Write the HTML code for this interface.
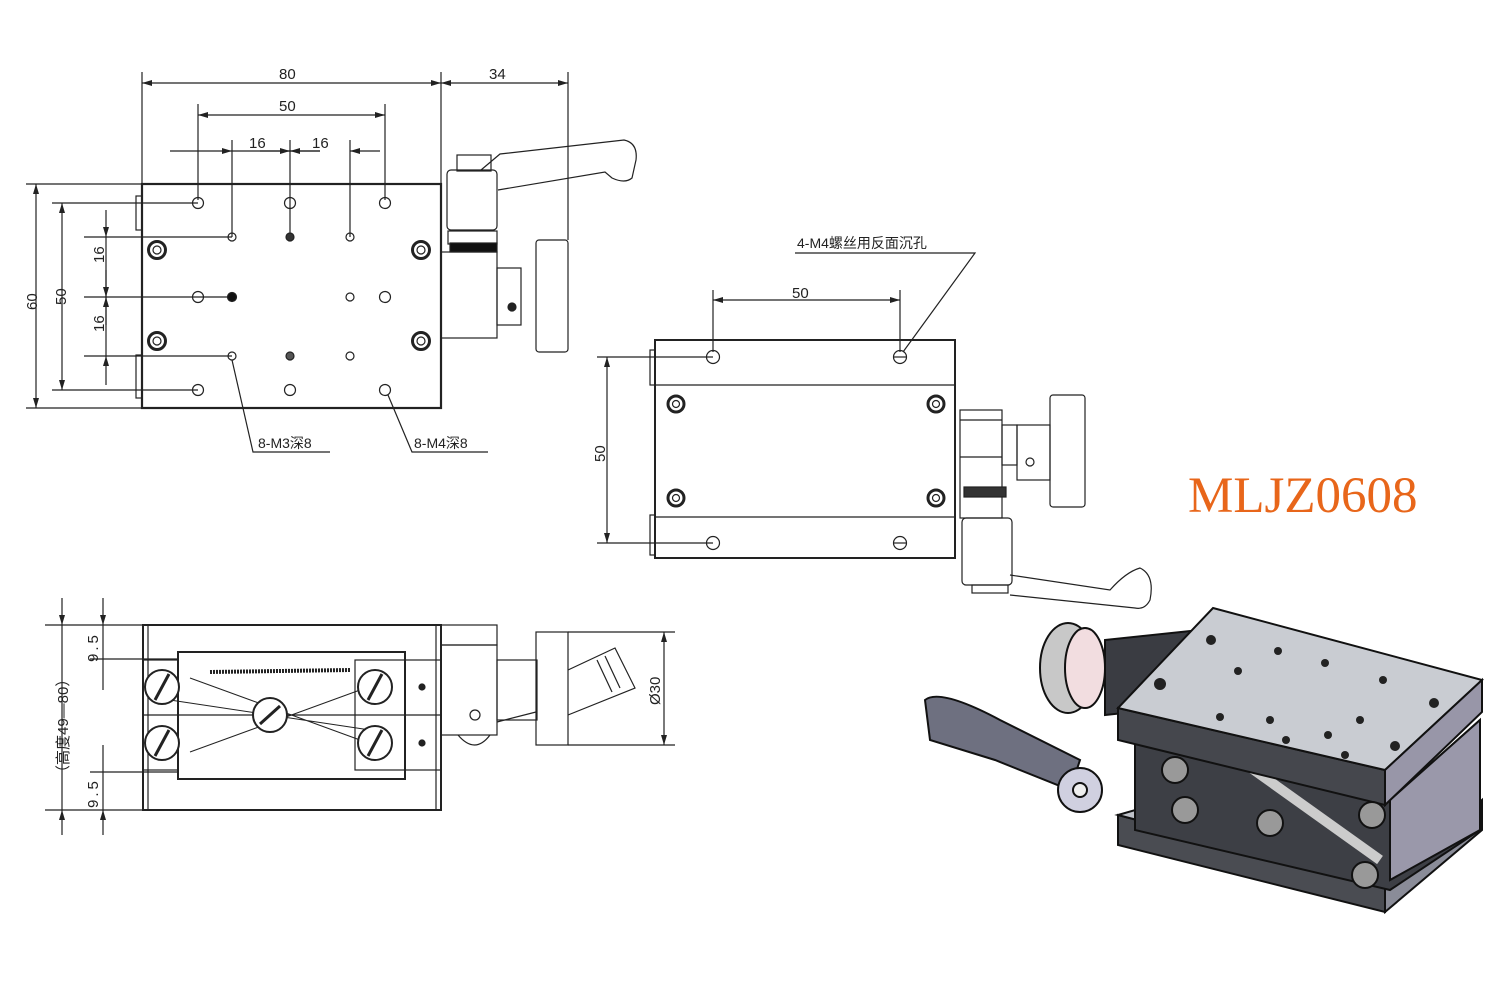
<!DOCTYPE html>
<html><head><meta charset="utf-8"><style>
html,body{margin:0;padding:0;background:#fff;}
svg{display:block;}
text{font-family:"Liberation Sans","Noto Sans CJK SC",sans-serif;fill:#222;}
text.big{font-family:"Liberation Serif",serif;fill:#e8661a;}
</style></head><body>
<svg width="1500" height="1000" viewBox="0 0 1500 1000" xmlns="http://www.w3.org/2000/svg">
<defs>
<marker id="a" viewBox="0 0 10 6" refX="10" refY="3" markerWidth="10" markerHeight="6" orient="auto-start-reverse" markerUnits="userSpaceOnUse"><path d="M0,0 L10,3 L0,6z" fill="#222"/></marker>
</defs>
<g stroke="#222" fill="none" stroke-width="1.2">
<line x1="142" y1="72" x2="142" y2="184"/><line x1="441" y1="72" x2="441" y2="230"/><line x1="568" y1="72" x2="568" y2="240"/>
<line x1="142" y1="83" x2="441" y2="83" marker-start="url(#a)" marker-end="url(#a)"/>
<line x1="441" y1="83" x2="568" y2="83" marker-start="url(#a)" marker-end="url(#a)"/>
<line x1="198" y1="104" x2="198" y2="200"/><line x1="385" y1="104" x2="385" y2="200"/>
<line x1="198" y1="115" x2="385" y2="115" marker-start="url(#a)" marker-end="url(#a)"/>
<line x1="232" y1="140" x2="232" y2="237"/><line x1="290" y1="140" x2="290" y2="237"/><line x1="350" y1="140" x2="350" y2="237"/>
<line x1="170" y1="151" x2="232" y2="151" marker-end="url(#a)"/><line x1="232" y1="151" x2="290" y2="151"/>
<line x1="260" y1="151" x2="290" y2="151" marker-end="url(#a)"/><line x1="290" y1="151" x2="320" y2="151"/>
<line x1="320" y1="151" x2="290" y2="151" marker-end="url(#a)"/><line x1="380" y1="151" x2="350" y2="151" marker-end="url(#a)"/>
<rect x="142" y="184" width="299" height="224" stroke-width="2.2"/>
<rect x="136" y="196" width="6" height="34"/><rect x="136" y="355" width="6" height="43"/>
<line x1="26" y1="184" x2="142" y2="184"/><line x1="26" y1="408" x2="142" y2="408"/>
<line x1="36" y1="184" x2="36" y2="408" marker-start="url(#a)" marker-end="url(#a)"/>
<line x1="52" y1="203" x2="198" y2="203"/><line x1="52" y1="390" x2="198" y2="390"/>
<line x1="62" y1="203" x2="62" y2="390" marker-start="url(#a)" marker-end="url(#a)"/>
<line x1="84" y1="237" x2="232" y2="237"/><line x1="84" y1="297" x2="232" y2="297"/><line x1="84" y1="356" x2="232" y2="356"/>
<line x1="106" y1="210" x2="106" y2="237" marker-end="url(#a)"/><line x1="106" y1="237" x2="106" y2="356"/>
<line x1="106" y1="270" x2="106" y2="297" marker-end="url(#a)"/><line x1="106" y1="325" x2="106" y2="297" marker-end="url(#a)"/>
<line x1="106" y1="385" x2="106" y2="356" marker-end="url(#a)"/>
<circle cx="198" cy="203" r="5.5"/><circle cx="290" cy="203" r="5.5"/><circle cx="385" cy="203" r="5.5"/>
<circle cx="232" cy="237" r="4"/><circle cx="290" cy="237" r="4" fill="#333"/><circle cx="350" cy="237" r="4"/>
<circle cx="198" cy="297" r="5.5"/><circle cx="232" cy="297" r="4.5" fill="#111"/><circle cx="350" cy="297" r="4"/><circle cx="385" cy="297" r="5.5"/>
<circle cx="232" cy="356" r="4"/><circle cx="290" cy="356" r="4" fill="#555"/><circle cx="350" cy="356" r="4"/>
<circle cx="198" cy="390" r="5.5"/><circle cx="290" cy="390" r="5.5"/><circle cx="385" cy="390" r="5.5"/>
<g stroke-width="3"><circle cx="157" cy="250" r="8.5"/><circle cx="157" cy="341" r="8.5"/><circle cx="421" cy="250" r="8.5"/><circle cx="421" cy="341" r="8.5"/></g>
<circle cx="157" cy="250" r="4"/><circle cx="157" cy="341" r="4"/><circle cx="421" cy="250" r="4"/><circle cx="421" cy="341" r="4"/>
<polyline points="232,360 253,452 330,452"/><polyline points="388,395 412,452 488,452"/>
<rect x="447" y="170" width="50" height="60" rx="4"/><rect x="457" y="155" width="34" height="16"/>
<path d="M481,170 L500,154 L624,140 Q638,143 636,160 L632,178 Q625,184 612,178 L605,172 L498,190"/>
<rect x="448" y="231" width="49" height="13"/><rect x="450" y="243" width="47" height="9" fill="#111"/>
<rect x="441" y="252" width="56" height="86"/>
<rect x="497" y="268" width="24" height="57"/><circle cx="512" cy="307" r="4" fill="#222"/>
<rect x="536" y="240" width="32" height="112" rx="3"/>
<line x1="713" y1="290" x2="713" y2="352"/><line x1="900" y1="290" x2="900" y2="352"/>
<line x1="713" y1="300" x2="900" y2="300" marker-start="url(#a)" marker-end="url(#a)"/>
<line x1="597" y1="357" x2="713" y2="357"/><line x1="597" y1="543" x2="713" y2="543"/>
<line x1="607" y1="357" x2="607" y2="543" marker-start="url(#a)" marker-end="url(#a)"/>
<rect x="655" y="340" width="300" height="218" stroke-width="2"/>
<line x1="655" y1="385" x2="955" y2="385"/><line x1="655" y1="517" x2="955" y2="517"/>
<rect x="650" y="350" width="5" height="35"/><rect x="650" y="515" width="5" height="40"/>
<circle cx="713" cy="357" r="6.5"/><circle cx="900" cy="357" r="6.5"/><circle cx="713" cy="543" r="6.5"/><circle cx="900" cy="543" r="6.5"/>
<line x1="894" y1="357" x2="906" y2="357"/><line x1="894" y1="543" x2="906" y2="543"/>
<g stroke-width="3"><circle cx="676" cy="404" r="8"/><circle cx="936" cy="404" r="8"/><circle cx="676" cy="498" r="8"/><circle cx="936" cy="498" r="8"/></g>
<circle cx="676" cy="404" r="3.5"/><circle cx="936" cy="404" r="3.5"/><circle cx="676" cy="498" r="3.5"/><circle cx="936" cy="498" r="3.5"/>
<polyline points="795,253 975,253 903,352"/>
<rect x="960" y="410" width="42" height="108"/><line x1="960" y1="420" x2="1002" y2="420"/><line x1="960" y1="457" x2="1002" y2="457"/>
<rect x="964" y="487" width="42" height="10" fill="#333"/>
<rect x="1002" y="425" width="15" height="40"/><rect x="1017" y="425" width="33" height="55"/><circle cx="1030" cy="462" r="4"/>
<rect x="1050" y="395" width="35" height="112" rx="3"/>
<rect x="962" y="518" width="50" height="67" rx="4"/><rect x="972" y="585" width="36" height="8"/>
<path d="M1010,575 L1110,590 Q1126,572 1140,568 Q1155,575 1150,600 Q1145,610 1135,608 L1010,595"/>
<line x1="62" y1="598" x2="62" y2="625" marker-end="url(#a)"/><line x1="62" y1="625" x2="62" y2="810"/><line x1="62" y1="835" x2="62" y2="810" marker-end="url(#a)"/>
<line x1="103" y1="598" x2="103" y2="625" marker-end="url(#a)"/><line x1="103" y1="625" x2="103" y2="690"/><line x1="103" y1="745" x2="103" y2="810"/><line x1="103" y1="835" x2="103" y2="810" marker-end="url(#a)"/>
<line x1="45" y1="625" x2="143" y2="625"/><line x1="45" y1="810" x2="143" y2="810"/>
<line x1="90" y1="659" x2="178" y2="659"/><line x1="90" y1="772" x2="178" y2="772"/>
<rect x="143" y="625" width="298" height="185" stroke-width="2"/><line x1="148" y1="625" x2="148" y2="810"/><line x1="436" y1="625" x2="436" y2="810"/>
<rect x="178" y="652" width="227" height="127" stroke-width="2"/>
<rect x="143" y="660" width="35" height="110"/><rect x="355" y="660" width="50" height="110"/>
<line x1="143" y1="715" x2="441" y2="715"/>
<path d="M190,678 L360,740 M190,752 L360,690 M170,700 L270,715 L370,730" stroke-width="1"/>
<line x1="210" y1="672" x2="350" y2="670" stroke-width="4" stroke-dasharray="2,1"/>
<g fill="#fff" stroke-width="2">
<circle cx="162" cy="687" r="17"/><circle cx="375" cy="687" r="17"/><circle cx="270" cy="715" r="17"/><circle cx="162" cy="743" r="17"/><circle cx="375" cy="743" r="17"/>
</g>
<g stroke-width="3"><line x1="155" y1="700" x2="169" y2="674"/><line x1="368" y1="700" x2="382" y2="674"/><line x1="260" y1="724" x2="280" y2="706"/><line x1="155" y1="756" x2="169" y2="730"/><line x1="368" y1="756" x2="382" y2="730"/></g>
<rect x="405" y="660" width="36" height="110"/>
<circle cx="422" cy="687" r="3" fill="#222"/><circle cx="422" cy="743" r="3" fill="#222"/>
<rect x="441" y="625" width="56" height="20"/><rect x="441" y="645" width="56" height="90"/>
<circle cx="475" cy="715" r="5"/><path d="M458,735 Q475,755 490,735"/>
<rect x="497" y="660" width="40" height="60"/><polyline points="497,722 536,712"/>
<rect x="536" y="632" width="32" height="113"/>
<path d="M568,670 L615,648 L635,688 L568,715"/><line x1="597" y1="660" x2="612" y2="692"/><line x1="605" y1="656" x2="620" y2="688"/>
<line x1="568" y1="632" x2="675" y2="632"/><line x1="568" y1="745" x2="675" y2="745"/>
<line x1="664" y1="632" x2="664" y2="745" marker-start="url(#a)" marker-end="url(#a)"/>
</g>
<g font-size="15">
<text x="279" y="79">80</text><text x="489" y="79">34</text><text x="279" y="111">50</text>
<text x="249" y="148">16</text><text x="312" y="148">16</text>
<text transform="translate(37,310) rotate(-90)">60</text>
<text transform="translate(66,305) rotate(-90)">50</text>
<text transform="translate(104,263) rotate(-90)">16</text>
<text transform="translate(104,332) rotate(-90)">16</text>
<text x="258" y="448" font-size="14">8-M3深8</text><text x="414" y="448" font-size="14">8-M4深8</text>
<text x="792" y="298">50</text><text transform="translate(605,462) rotate(-90)">50</text>
<text x="797" y="248" font-size="14">4-M4螺丝用反面沉孔</text>
<text transform="translate(68,780) rotate(-90)">（高度49—80）</text>
<text transform="translate(98,662) rotate(-90)" letter-spacing="3">9.5</text>
<text transform="translate(98,808) rotate(-90)" letter-spacing="3">9.5</text>
<text transform="translate(660,705) rotate(-90)">Ø30</text>
</g>
<text class="big" x="1188" y="512" font-size="51">MLJZ0608</text>
<g stroke="#111" stroke-width="2">
<polygon points="1118,815 1385,885 1385,912 1118,845" fill="#4a4c52"/>
<polygon points="1118,815 1170,800 1420,862 1385,885" fill="#bfc2c9"/>
<polygon points="1385,885 1482,800 1482,830 1385,912" fill="#8a8c98"/>
<polygon points="1135,740 1390,800 1480,720 1480,830 1390,890 1135,830" fill="#3d3f45"/>
<polygon points="1390,800 1480,720 1480,830 1390,880" fill="#9a98aa"/>
<path d="M1240,760 L1380,860" stroke="#ccc" stroke-width="10"/>
<polygon points="1105,640 1200,630 1200,705 1105,715" fill="#3a3c42"/>
<polygon points="1118,708 1385,770 1385,805 1118,740" fill="#45474d"/>
<polygon points="1213,608 1482,680 1385,770 1118,708" fill="#c9ccd2"/>
<polygon points="1385,770 1482,680 1482,712 1385,805" fill="#9896a8"/>
<ellipse cx="1068" cy="668" rx="28" ry="45" fill="#c8c8c8"/>
<ellipse cx="1085" cy="668" rx="20" ry="40" fill="#f2dde0"/>
<path d="M925,700 Q940,688 1000,720 L1080,760 L1070,790 L995,760 L930,740 Z" fill="#6e7080"/>
<circle cx="1080" cy="790" r="22" fill="#d0d0e0"/><circle cx="1080" cy="790" r="7" fill="#eee"/>
<g fill="#999"><circle cx="1175" cy="770" r="13"/><circle cx="1185" cy="810" r="13"/><circle cx="1270" cy="823" r="13"/><circle cx="1372" cy="815" r="13"/><circle cx="1365" cy="875" r="13"/></g>
</g>
<g fill="#222">
<circle cx="1211" cy="640" r="5"/><circle cx="1160" cy="684" r="6"/><circle cx="1278" cy="651" r="4"/><circle cx="1238" cy="671" r="4"/>
<circle cx="1325" cy="663" r="4"/><circle cx="1383" cy="680" r="4"/><circle cx="1434" cy="703" r="5"/><circle cx="1395" cy="746" r="5"/>
<circle cx="1270" cy="720" r="4"/><circle cx="1220" cy="717" r="4"/><circle cx="1328" cy="735" r="4"/><circle cx="1286" cy="740" r="4"/><circle cx="1345" cy="755" r="4"/><circle cx="1360" cy="720" r="4"/>
</g>
</svg>
</body></html>
